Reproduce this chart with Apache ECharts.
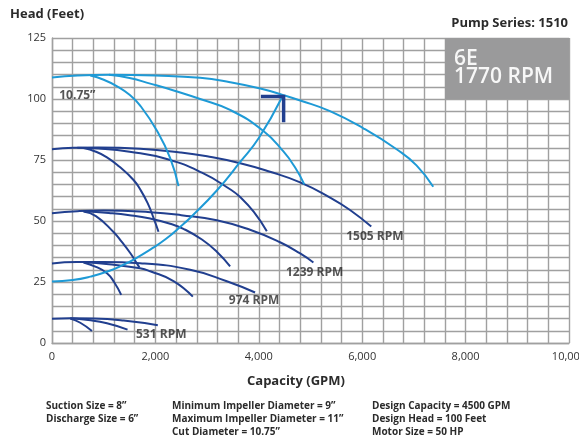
<!DOCTYPE html>
<html>
<head>
<meta charset="utf-8">
<script src="https://cdn.jsdelivr.net/npm/echarts@6/dist/echarts.min.js"></script>
<style>
html,body{margin:0;padding:0;background:#fff;}
#c{width:579px;height:440px;}
</style>
</head>
<body>
<div id="c"></div>
<script>
// ---- tick settings ----
var xTickLabels = [0, 2000, 4000, 6000, 8000, 10000];
var yTickLabels = [0, 25, 50, 75, 100, 125];

// ---- 1770 RPM, 10.75" impeller (light blue) ----
var c1770Main = [[0,108.8],[500,109.6],[1100,109.9],[2000,109.6],[2865,108.7],[3445,106.9],[4029,104.3],[4476,101.6],[4800,99.4],[5377,95],[6021,88],[6665,79.4],[7050,72.8],[7374,64]];
var c1770B = [[1100,109.9],[1500,108.6],[1900,106.3],[2400,103.2],[2865,100],[3445,95.5],[4089,86.9],[4476,78.5],[4700,72],[4880,65]];
var c1770C = [[741,109.6],[1000,107.9],[1260,105.2],[1500,101.7],[1706,97.3],[2030,87],[2286,75.8],[2447,64.3]];
// system curve
var systemCurve = [[0,25.2],[400,25.8],[740,27.2],[1100,29.5],[1384,32.1],[1578,34.2],[1900,38.3],[2200,42.6],[2543,48.8],[2675,51.3],[3188,62.5],[3640,74.2],[4000,84],[4444,100.5]];
// design point marker
var designMarker = [[4040,101],[4480,101],[4480,90.5]];

// ---- 1505 RPM (dark blue) ----
var n1505Main = [[0,79.4],[418,80],[900,80.1],[1706,79.6],[2480,78.1],[3000,76.5],[3640,73.7],[4200,70.3],[4800,65.8],[5377,59.6],[5764,54.5],[6175,47.7]];
var n1505B = [[490,80],[900,79.7],[1500,78.4],[2220,75.4],[2900,69.8],[3445,63],[3640,59.8],[3900,53.8],[4155,45.8]];
var n1505C = [[610,79.9],[850,78.4],[1063,76.1],[1300,72.3],[1577,66.8],[1710,62.8],[1850,57.3],[1960,51.5],[2060,45.6]];

// ---- 1239 RPM ----
var n1239Main = [[0,53.2],[490,54],[1000,54.3],[1900,53.6],[2500,52.4],[3188,50.3],[3830,46.4],[4411,41.3],[4800,36.7],[5056,33]];
var n1239B = [[610,54],[1100,53.3],[1500,52.4],[1900,51],[2285,48.9],[2543,46.8],[2900,42.4],[3188,37.4],[3445,31.4]];
var n1239C = [[610,53.9],[850,52],[1190,45.5],[1350,41.4],[1513,36.9],[1600,34],[1690,31]];

// ---- 974 RPM ----
var n974Main = [[0,32.6],[482,33.2],[1000,33.2],[1706,32.7],[2672,30],[3381,25.3],[3928,20.7]];
var n974B = [[610,33.1],[1100,32.3],[1706,30.6],[1900,29.4],[2350,25.4],[2724,19]];
var n974C = [[610,33],[850,31.2],[1063,28.6],[1200,25],[1339,19.7]];

// ---- 531 RPM ----
var n531Main = [[0,9.9],[354,10.1],[800,10],[1384,9.2],[2047,7.3]];
var n531B = [[354,10.1],[700,9.4],[1063,8.1],[1461,5.5]];
var n531C = [[354,10],[547,8.3],[773,4.9]];

// ---- texts ----
var curveLabels = [
  {text:'10.75\u201D', x:140, y:101.3},
  {text:'1505 RPM', x:5690, y:43.5},
  {text:'1239 RPM', x:4525, y:28.7},
  {text:'974 RPM', x:3420, y:17.2},
  {text:'531 RPM', x:1625, y:3.3}
];
var infoCol1 = ['Suction Size = 8\u201D','Discharge Size = 6\u201D'];
var infoCol2 = ['Minimum Impeller Diameter = 9\u201D','Maximum Impeller Diameter = 11\u201D','Cut Diameter = 10.75\u201D'];
var infoCol3 = ['Design Capacity = 4500 GPM','Design Head = 100 Feet','Motor Size = 50 HP'];

var CYAN = '#1e9ad6';
var NAVY = '#213f8f';
var GRIDC = '#a0a0a0';
var FONT = '"Open Sans", "Noto Sans", sans-serif';

function line(data, color, w) {
  return {type:'line', data:data, showSymbol:false, smooth:0.5,
    lineStyle:{color:color, width:w||2}, silent:true, animation:false, z:3};
}

var series = [
  line(n1505Main, NAVY), line(n1505B, NAVY), line(n1505C, NAVY),
  line(n1239Main, NAVY), line(n1239B, NAVY), line(n1239C, NAVY),
  line(n974Main, NAVY), line(n974B, NAVY), line(n974C, NAVY),
  line(n531Main, NAVY), line(n531B, NAVY), line(n531C, NAVY),
  line(c1770Main, CYAN), line(c1770B, CYAN), line(c1770C, CYAN),
  line(systemCurve, CYAN)
];
series.push({type:'line', data:designMarker, showSymbol:false, smooth:false,
  lineStyle:{color:NAVY, width:3.5, cap:'butt', join:'miter'}, animation:false, z:4, silent:true});
series.push({type:'scatter', data:[], animation:false,
  markArea:{silent:true, itemStyle:{color:'#9a9a9b', opacity:1},
    data:[[{xAxis:7600, yAxis:125},{xAxis:10000, yAxis:100}]]}, z:5});
series.push({type:'scatter', symbolSize:0, animation:false, silent:true, z:6,
  data: curveLabels.map(function(l){return {value:[l.x,l.y], name:l.text};}),
  label:{show:true, position:'right', distance:0, formatter:function(p){return p.name;},
    color:'#2b2b2b', fontSize:12, fontWeight:'bold', fontFamily:FONT}});

var chart = echarts.init(document.getElementById('c'), null, {renderer:'canvas'});
var graphic = [
  {type:'text', left:10, top:8, style:{text:'Head (Feet)', font:'bold 13px '+FONT, fill:'#2b2b2b'}},
  {type:'text', right:11, top:17, style:{text:'Pump Series: 1510', font:'bold 13px '+FONT, fill:'#2b2b2b'}},
  {type:'text', left:454, top:49, z:10, style:{text:'6E', font:'600 21px '+FONT, fill:'#f7f7f7'}},
  {type:'text', left:454, top:67, z:10, style:{text:'1770 RPM', font:'600 21px '+FONT, fill:'#f7f7f7'}},
  {type:'text', left:247, top:375, style:{text:'Capacity (GPM)', font:'bold 13px '+FONT, fill:'#2b2b2b'}}
];
var rowsTop = [401, 414, 427];
infoCol1.forEach(function(t,i){graphic.push({type:'text', left:46, top:rowsTop[i], style:{text:t, font:'bold 10px '+FONT, fill:'#2b2b2b'}});});
infoCol2.forEach(function(t,i){graphic.push({type:'text', left:172, top:rowsTop[i], style:{text:t, font:'bold 10px '+FONT, fill:'#2b2b2b'}});});
infoCol3.forEach(function(t,i){graphic.push({type:'text', left:372, top:rowsTop[i], style:{text:t, font:'bold 10px '+FONT, fill:'#2b2b2b'}});});

chart.setOption({
  animation:false,
  grid:{left:52, right:10, top:38, bottom:97, containLabel:false, outerBoundsMode:'none'},
  xAxis:{type:'value', min:0, max:10000, interval:400,
    axisLine:{show:true, lineStyle:{color:GRIDC, width:1.4}}, axisTick:{show:false},
    splitLine:{show:true, lineStyle:{color:GRIDC, width:1.4}},
    axisLabel:{margin:8, color:'#333', fontSize:11, fontFamily:FONT, showMaxLabel:true,
      formatter:function(v){return xTickLabels.indexOf(v)>=0 ? v.toLocaleString('en-US') : '';}}},
  yAxis:{type:'value', min:0, max:125, interval:5,
    axisLine:{show:true, lineStyle:{color:GRIDC, width:1.4}}, axisTick:{show:false},
    splitLine:{show:true, lineStyle:{color:GRIDC, width:1.4}},
    axisLabel:{margin:6, color:'#333', fontSize:11, fontFamily:FONT,
      formatter:function(v){return yTickLabels.indexOf(v)>=0 ? String(v) : '';}}},
  graphic:graphic,
  series:series
});
</script>
</body>
</html>
